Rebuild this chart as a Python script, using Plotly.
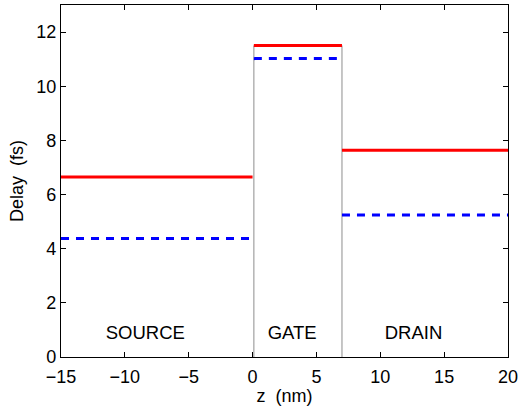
import plotly.graph_objects as go

regions = ["SOURCE", "GATE", "DRAIN"]
region_x = [[-15, 0], [0.1, 7], [7, 20]]
red_vals = [6.65, 11.5, 7.64]
blue_vals = [4.38, 11.02, 5.24]
label_x = [-8.4, 3.1, 12.6]
label_y = 0.85
boundary_x = [0.1, 7]
boundary_top = 11.5

FONT = "Liberation Sans, Arial, Helvetica"

fig = go.Figure()
for bx in boundary_x:
    fig.add_trace(go.Scatter(x=[bx, bx], y=[0, boundary_top], mode="lines",
                             line=dict(color="#a0a0a0", width=1.2), showlegend=False, hoverinfo="skip"))
for xs, r, b in zip(region_x, red_vals, blue_vals):
    fig.add_trace(go.Scatter(x=xs, y=[b, b], mode="lines",
                             line=dict(color="#0000ff", width=3, dash="8px,7px"), showlegend=False))
    fig.add_trace(go.Scatter(x=xs, y=[r, r], mode="lines",
                             line=dict(color="#ff0000", width=3), showlegend=False))

fig.add_trace(go.Scatter(x=label_x, y=[label_y]*3, mode="text", text=regions,
                         textfont=dict(size=18.5, color="black", family=FONT),
                         showlegend=False, hoverinfo="skip"))

axis_common = dict(showgrid=False, zeroline=False, showline=True, linecolor="black", linewidth=1.3,
                   mirror="ticks", ticks="inside", ticklen=5, tickcolor="black", automargin=False,
                   tickfont=dict(size=18, color="black", family=FONT))
fig.update_xaxes(range=[-15, 20], tickmode="array", tickvals=[-15, -10, -5, 0, 5, 10, 15, 20],
                 ticktext=["\u221215", "\u221210", "\u22125", "0", "5", "10", "15", "20"],
                 ticklabelstandoff=3,
                 title=dict(text="z  (nm)", font=dict(size=18, color="black", family=FONT), standoff=2),
                 **axis_common)
fig.update_yaxes(range=[0, 13], tickmode="array", tickvals=[0, 2, 4, 6, 8, 10, 12],
                 title=dict(text="Delay  (fs)", font=dict(size=18, color="black", family=FONT), standoff=7),
                 **axis_common)
fig.update_layout(width=521, height=406, margin=dict(l=61, r=13, t=5, b=49),
                  plot_bgcolor="white", paper_bgcolor="white")
fig.write_html("out.html")
